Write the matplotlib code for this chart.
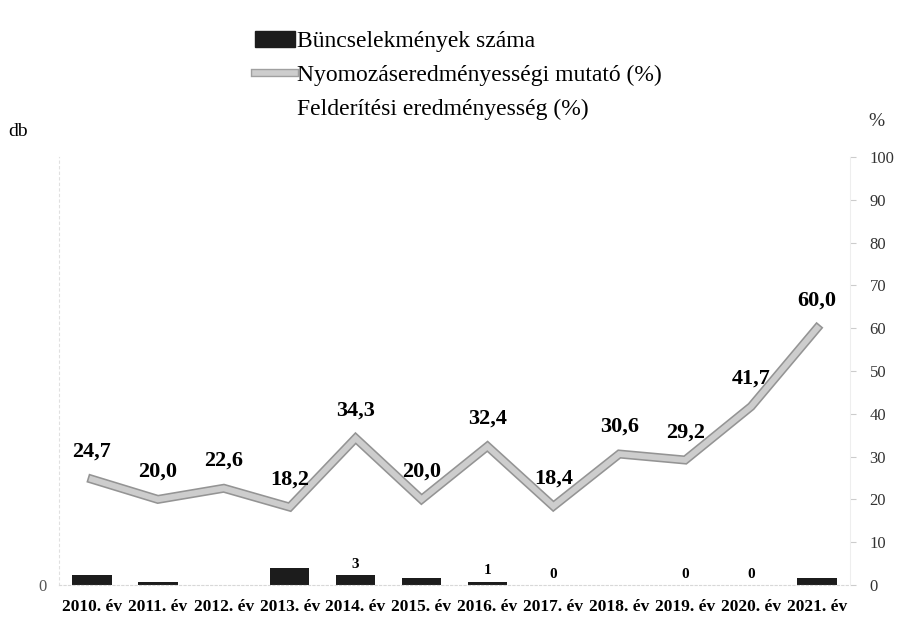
import matplotlib
matplotlib.use("Agg")
import matplotlib.pyplot as plt
import matplotlib.patheffects as pe
from matplotlib.patches import Patch
from matplotlib.lines import Line2D

years = ["2010. év", "2011. év", "2012. év", "2013. év", "2014. év", "2015. év",
         "2016. év", "2017. év", "2018. év", "2019. év", "2020. év", "2021. év"]
crime_counts = [3, 1, 0, 5, 3, 2, 1, 0, 0, 0, 0, 2]
count_labels = ["", "", "", "", "3", "", "1", "0", "", "0", "0", ""]
investigation_rate = [24.7, 20.0, 22.6, 18.2, 34.3, 20.0, 32.4, 18.4, 30.6, 29.2, 41.7, 60.0]
right_ticks = list(range(0, 101, 10))

serif = ["Liberation Serif", "DejaVu Serif"]
plt.rcParams["font.family"] = serif

fig = plt.figure(figsize=(9.03, 6.29), dpi=100)
y0, y100 = 585, 157
ax = fig.add_axes([59/903, 1-y0/629, (850-59)/903, (y0-y100)/629])
ax2 = ax.twinx()

x = list(range(len(years)))

# bars (left axis, db)
ax.bar(x, crime_counts, width=0.6, color="#1c1c1c", zorder=2)
ax.set_ylim(0, 125)
ax.set_xlim(-0.5, len(years) - 0.5)
ax.set_yticks([0])
ax.set_yticklabels(["0"], fontsize=12, color="#555555")
ax.tick_params(axis="y", length=0, pad=9)
ax.set_xticks(x)
ax.set_xticklabels(years, fontsize=12.5, fontweight="bold")
ax.tick_params(axis="x", length=0, pad=10)
for xi, v, lab in zip(x, crime_counts, count_labels):
    if lab:
        ax.annotate(lab, (xi, v), xytext=(0, 3), textcoords="offset points",
                    ha="center", va="bottom", fontsize=11, fontweight="bold")

for s in ["top", "right"]:
    ax.spines[s].set_visible(False)
ax.spines["left"].set_color("#e0e0e0")
ax.spines["bottom"].set_color("#d8d8d8")
ax.spines["bottom"].set_linestyle((0, (2, 2)))
ax.spines["left"].set_linestyle((0, (2, 3)))

# line (right axis, %)
ax2.plot(x, investigation_rate, color="#cdcdcd", linewidth=4.2, zorder=3,
         solid_joinstyle="miter",
         path_effects=[pe.Stroke(linewidth=6.5, foreground="#949494"), pe.Normal()])
ax2.set_ylim(0, 100)
ax2.set_yticks(right_ticks)
ax2.set_yticklabels([str(t) for t in right_ticks], fontsize=12, color="#333333")
ax2.tick_params(axis="y", length=4, color="#cccccc", pad=10)
for s in ["top", "left", "bottom"]:
    ax2.spines[s].set_visible(False)
ax2.spines["right"].set_color("#eeeeee")

for xi, v in zip(x, investigation_rate):
    ax2.annotate(f"{v:.1f}".replace(".", ","), (xi, v), xytext=(0, 20),
                 textcoords="offset points", ha="center", va="center",
                 fontsize=16, fontweight="bold")

# axis titles
fig.text(8/903, 1-131/629, "db", fontsize=14, va="center", ha="left")
fig.text(868/903, 1-122/629, "%", fontsize=14, va="center", ha="left", color="#333333")

# legend
handles = [
    Patch(facecolor="#1c1c1c", edgecolor="#1c1c1c"),
    Line2D([0], [0], color="#cdcdcd", linewidth=4,
           path_effects=[pe.Stroke(linewidth=6, foreground="#a0a0a0"), pe.Normal()]),
    Line2D([0], [0], color="none"),
]
labels = ["Büncselekmények száma", "Nyomozáseredményességi mutató (%)",
          "Felderítési eredményesség (%)"]
fig.legend(handles, labels, loc="upper left", bbox_to_anchor=(243/903, 1-19/629),
           frameon=False, fontsize=17, handlelength=1.7, handletextpad=0.1,
           labelspacing=0.52, borderpad=0)

fig.savefig("out.png", dpi=100, facecolor="white")
